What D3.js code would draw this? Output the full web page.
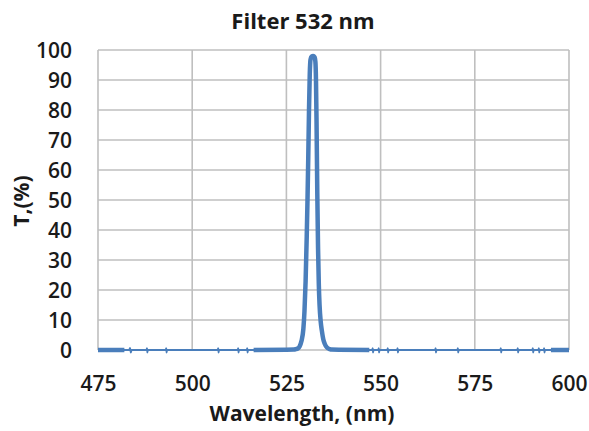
<!DOCTYPE html>
<html>
<head>
<meta charset="utf-8">
<script src="https://cdn.jsdelivr.net/npm/d3@7"></script>
<style>
  html, body { margin: 0; padding: 0; background: #fff; }
  svg { display: block; }
  text { font-family: "Open Sans", "Liberation Sans", sans-serif; fill: #1a1a1a; }
</style>
</head>
<body>
<svg id="chart" width="589" height="431"></svg>
<script>
// ---- data ----
const chartTitle = "Filter 532 nm";
const xAxisTitle = "Wavelength, (nm)";
const yAxisTitle = "T,(%)";
const xTicks = [475, 500, 525, 550, 575, 600];
const yTicks = [0, 10, 20, 30, 40, 50, 60, 70, 80, 90, 100];
// wavelength ranges where the measured trace is densely noisy (drawn heavier)
const denseRanges = [[475, 482.2], [516.2, 547.2], [595, 600]];

const wavelength = [
  475, 482,
  483.3, 483.5, 483.7, 483.9,
  487.9, 488.0, 488.1, 488.2,
  493.0, 493.1, 493.2, 493.3,
  506.8, 506.9, 507.0, 507.1,
  512.1, 512.2, 512.3, 512.4,
  514.5, 514.6, 514.7, 514.8,
  516.3, 527.0, 527.5, 528.0, 528.5, 529.0, 529.5, 529.8, 530.1, 530.4,
  530.6, 530.8, 531.0, 531.2, 531.4, 531.7, 532.1, 532.5, 532.7, 532.85,
  533.0, 533.2, 533.4, 533.6, 533.8, 534.1, 534.4, 534.8, 535.2, 535.6,
  536.0, 536.5, 537.0, 547,
  547.8, 547.9, 548.0, 548.1,
  549.4, 549.5, 549.6, 549.7,
  551.8, 551.9, 552.0, 552.1,
  554.4, 554.5, 554.6, 554.7,
  564.5, 564.6, 564.7, 564.8,
  570.4, 570.5, 570.6, 570.7,
  581.8, 581.9, 582.0, 582.1,
  586.3, 586.4, 586.5, 586.6,
  590.3, 590.4, 590.5, 590.6,
  591.9, 592.0, 592.1, 592.2,
  593.3, 593.4, 593.5, 593.6,
  595.2, 600
];
const transmission = [
  0, 0,
  0, 0.7, -0.8, 0,
  0, 0.6, -0.8, 0,
  0, 0.6, -0.8, 0,
  0, 0.6, -0.8, 0,
  0, 0.6, -0.8, 0,
  0, 0.6, -0.8, 0,
  0, 0.15, 0.3, 0.5, 1.2, 3, 7, 13, 23, 38,
  50, 64, 80, 92, 96.8, 97.8, 98, 97.6, 96, 90,
  76, 52, 34, 22, 15, 9.5, 6.5, 3.5, 2, 1.1,
  0.6, 0.3, 0.15, 0,
  0, 0.6, -0.8, 0,
  0, 0.6, -0.8, 0,
  0, 0.6, -0.8, 0,
  0, 0.6, -0.8, 0,
  0, 0.6, -0.8, 0,
  0, 0.6, -0.8, 0,
  0, 0.6, -0.8, 0,
  0, 0.6, -0.8, 0,
  0, 0.6, -0.8, 0,
  0, 0.6, -0.8, 0,
  0, 0.6, -0.8, 0,
  0, 0
];

// ---- layout ----
const svg = d3.select("#chart");
const plot = { left: 98, right: 569, top: 50, bottom: 350 };
const blue = "#4a7ebb";
const gridColor = "#bfbfbf";

const x = d3.scaleLinear().domain([475, 600]).range([plot.left, plot.right]);
const y = d3.scaleLinear().domain([0, 100]).range([plot.bottom, plot.top]);

// gridlines
svg.append("g")
  .selectAll("line.h")
  .data(yTicks)
  .join("line")
  .attr("x1", plot.left).attr("x2", plot.right)
  .attr("y1", d => y(d)).attr("y2", d => y(d))
  .attr("stroke", gridColor).attr("stroke-width", 1.6);

svg.append("g")
  .selectAll("line.v")
  .data(xTicks)
  .join("line")
  .attr("x1", d => x(d)).attr("x2", d => x(d))
  .attr("y1", plot.top).attr("y2", plot.bottom)
  .attr("stroke", gridColor).attr("stroke-width", 1.6);

// axes (labels only)
const yAxis = d3.axisLeft(y).tickValues(yTicks).tickSize(0).tickPadding(0);
const gy = svg.append("g").attr("transform", `translate(${plot.left - 26},0)`).call(yAxis);
gy.select(".domain").remove();
gy.selectAll("text")
  .attr("font-size", 21).attr("font-weight", 600)
  .attr("font-family", '"Open Sans", sans-serif').attr("fill", "#1a1a1a")
  .attr("dy", "0.36em");

const xAxis = d3.axisBottom(x).tickValues(xTicks).tickSize(0).tickPadding(0);
const gx = svg.append("g").attr("transform", `translate(0,${plot.bottom + 26})`).call(xAxis);
gx.select(".domain").remove();
gx.selectAll("text")
  .attr("font-size", 21).attr("font-weight", 600)
  .attr("font-family", '"Open Sans", sans-serif').attr("fill", "#1a1a1a")
  .attr("dy", "0.72em");

// data line
const pts = wavelength.map((w, i) => ({ w, t: transmission[i] }));
const line = d3.line().x(d => x(d.w)).y(d => y(d.t)).curve(d3.curveMonotoneX);

svg.append("path")
  .datum(pts)
  .attr("d", line)
  .attr("fill", "none")
  .attr("stroke", blue)
  .attr("stroke-width", 2)
  .attr("stroke-linejoin", "round");

denseRanges.forEach(([a, b]) => {
  svg.append("path")
    .datum(pts.filter(d => d.w >= a && d.w <= b))
    .attr("d", line)
    .attr("fill", "none")
    .attr("stroke", blue)
    .attr("stroke-width", 4.5)
    .attr("stroke-linejoin", "round");
});

// titles
svg.append("text")
  .attr("x", 303).attr("y", 29)
  .attr("text-anchor", "middle")
  .attr("font-size", 22).attr("font-weight", 700)
  .text(chartTitle);

svg.append("text")
  .attr("x", 302).attr("y", 421)
  .attr("text-anchor", "middle")
  .attr("font-size", 21).attr("font-weight", 700)
  .text(xAxisTitle);

svg.append("text")
  .attr("transform", "translate(29,201) rotate(-90)")
  .attr("text-anchor", "middle")
  .attr("font-size", 21).attr("font-weight", 700)
  .text(yAxisTitle);
</script>
</body>
</html>
